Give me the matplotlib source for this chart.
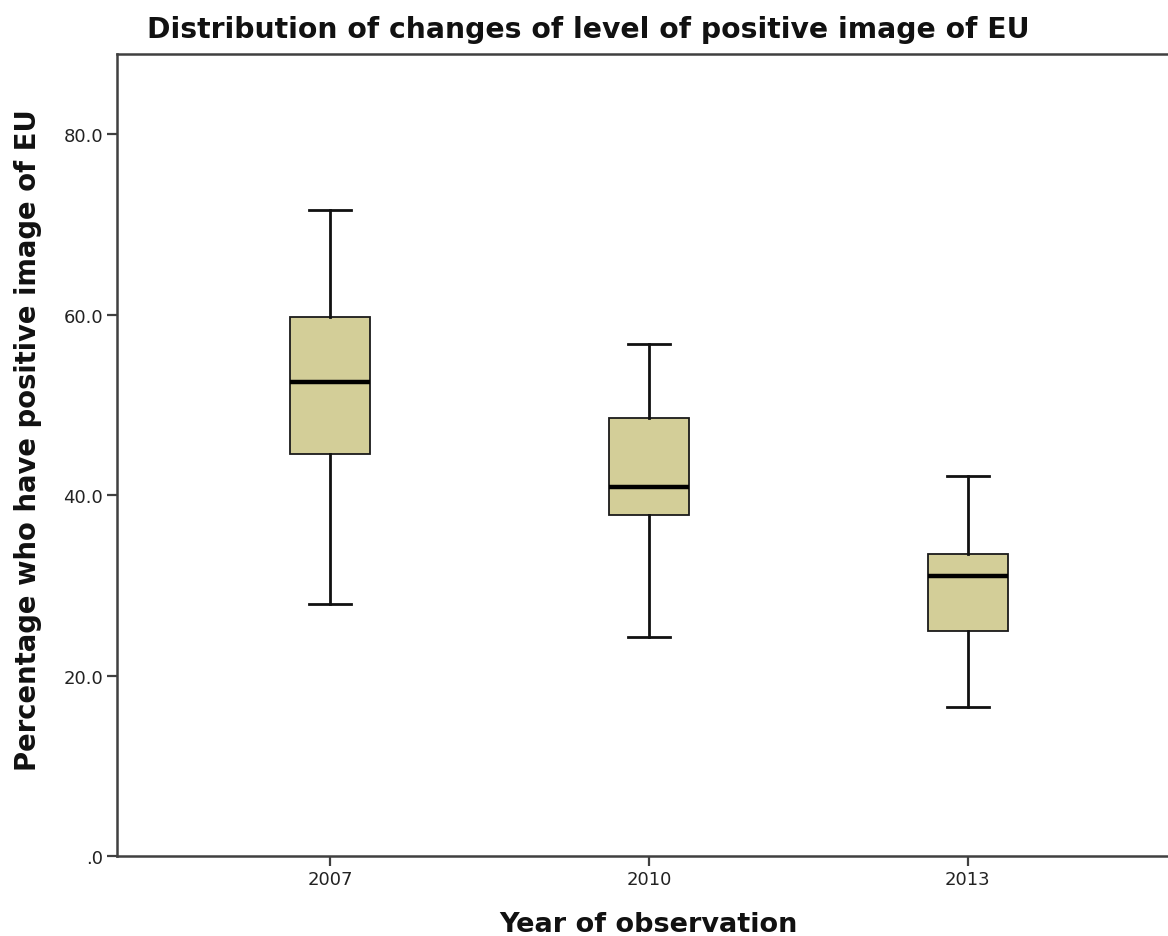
import matplotlib.pyplot as plt

# five-number summaries
years = ['2007', '2010', '2013']
whisker_low = [27.9, 24.3, 16.5]
q1 = [44.6, 37.8, 24.9]
median = [52.5, 40.9, 31.0]
q3 = [59.7, 48.6, 33.5]
whisker_high = [71.6, 56.8, 42.1]

y_ticks = [0, 20, 40, 60, 80]
y_tick_labels = ['.0', '20.0', '40.0', '60.0', '80.0']

stats = []
for i, yr in enumerate(years):
    stats.append({'label': yr, 'whislo': whisker_low[i], 'q1': q1[i], 'med': median[i],
                  'q3': q3[i], 'whishi': whisker_high[i], 'fliers': []})

fig = plt.figure(figsize=(11.68, 9.37), dpi=100)
# right edge of the frame runs past the image, like the original export
ax = fig.add_axes([0.1002, 0.0854, 0.9108, 0.8559])

ax.bxp(stats, positions=[1, 2, 3], widths=0.25, capwidths=0.13, patch_artist=True,
       boxprops=dict(facecolor='#d3ce98', edgecolor='#1a1a1a', linewidth=1.3),
       whiskerprops=dict(color='#111111', linewidth=2.0),
       capprops=dict(color='#111111', linewidth=2.0),
       medianprops=dict(color='black', linewidth=3.2))

ax.set_xlim(0.332, 3.668)
ax.set_ylim(0, 88.9)
ax.set_yticks(y_ticks)
ax.set_yticklabels(y_tick_labels)

for side in ['left', 'bottom', 'top', 'right']:
    ax.spines[side].set_color('#404040')
    ax.spines[side].set_linewidth(1.8)
ax.tick_params(axis='both', direction='out', length=7, width=1.6, color='#404040',
               labelsize=13, labelcolor='#222222', pad=3)

fig.text(0.504, 0.968, 'Distribution of changes of level of positive image of EU',
         ha='center', va='center', fontsize=20.3, fontweight='bold', color='#111111')
fig.text(0.555, 0.0128, 'Year of observation', ha='center', va='center',
         fontsize=19.5, fontweight='bold', color='#111111')
fig.text(0.024, 0.53, 'Percentage who have positive image of EU', ha='center', va='center',
         rotation=90, fontsize=19.8, fontweight='bold', color='#111111')

plt.savefig('out.png', dpi=100)
